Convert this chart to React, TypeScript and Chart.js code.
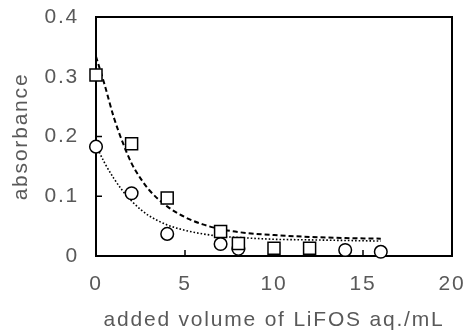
import React, { useEffect, useRef } from "react";
import { Chart, registerables } from "chart.js";

Chart.register(...registerables);

// Measured points
const squareVolumes = [0, 2, 4, 7, 8, 10, 12];
const squareAbsorbance = [0.303, 0.188, 0.097, 0.041, 0.021, 0.013, 0.013];
const circleVolumes = [0, 2, 4, 7, 8, 14, 16];
const circleAbsorbance = [0.183, 0.105, 0.037, 0.020, 0.012, 0.010, 0.007];

// Fitted curves
const dashedVolumes = [0, 0.5, 1, 1.5, 2, 2.5, 3, 4, 5, 6, 7, 8, 10, 12, 14, 16];
const dashedAbsorbance = [0.334, 0.285, 0.232, 0.19, 0.155, 0.13, 0.11, 0.083, 0.065, 0.053, 0.045, 0.04, 0.035, 0.032, 0.030, 0.029];
const dottedVolumes = [0, 0.5, 1, 1.5, 2, 2.5, 3, 4, 5, 6, 7, 8, 10, 12, 14, 16];
const dottedAbsorbance = [0.185, 0.155, 0.13, 0.109, 0.092, 0.078, 0.067, 0.052, 0.043, 0.037, 0.033, 0.031, 0.028, 0.027, 0.026, 0.025];

const xTicks = [0, 5, 10, 15, 20];
const yTicks = [0, 0.1, 0.2, 0.3, 0.4];

const xTitle = "added volume of LiFOS aq./mL";
const yTitle = "absorbance";

const toXY = (xs: number[], ys: number[]) => xs.map((x, i) => ({ x, y: ys[i] }));

const TEXT = "#595959";
const FONT = { family: "'Liberation Sans', Arial, sans-serif", size: 21 };
const SPACING = "1.8px";

const spacingPlugin = {
  id: "spacing",
  beforeLayout(chart: any) {
    chart.ctx.letterSpacing = SPACING;
  },
  beforeDraw(chart: any) {
    chart.ctx.letterSpacing = SPACING;
  },
};

const framePlugin = {
  id: "frame",
  beforeDatasetsDraw(chart: any) {
    const { ctx, chartArea, scales } = chart;
    const { left, right, top, bottom } = chartArea;
    ctx.save();
    ctx.strokeStyle = "#000";
    ctx.lineWidth = 2;
    ctx.beginPath();
    ctx.moveTo(left - 1, top);
    ctx.lineTo(right, top);
    ctx.lineTo(right, bottom + 1);
    ctx.stroke();
    ctx.lineWidth = 1.5;
    ctx.beginPath();
    xTicks.slice(1, -1).forEach((v) => {
      const px = scales.x.getPixelForValue(v);
      ctx.moveTo(px, bottom);
      ctx.lineTo(px, bottom - 6);
    });
    yTicks.slice(1, -1).forEach((v) => {
      const py = scales.y.getPixelForValue(v);
      ctx.moveTo(left, py);
      ctx.lineTo(left + 6, py);
    });
    ctx.stroke();
    ctx.restore();
  },
};

export default function App() {
  const ref = useRef<HTMLCanvasElement>(null);
  useEffect(() => {
    if (!ref.current) return;
    const chart = new Chart(ref.current, {
      type: "scatter",
      data: {
        datasets: [
          {
            label: "squares",
            data: toXY(squareVolumes, squareAbsorbance),
            pointStyle: "rect",
            pointRadius: 8.5,
            pointBorderWidth: 1.5,
            pointBorderColor: "#000",
            pointBackgroundColor: "#fff",
            showLine: false,
            clip: false,
            order: 0,
          },
          {
            label: "circles",
            data: toXY(circleVolumes, circleAbsorbance),
            pointStyle: "circle",
            pointRadius: 6.3,
            pointBorderWidth: 1.5,
            pointBorderColor: "#000",
            pointBackgroundColor: "#fff",
            showLine: false,
            clip: false,
            order: 1,
          },
          {
            label: "dashed fit",
            data: toXY(dashedVolumes, dashedAbsorbance),
            showLine: true,
            pointRadius: 0,
            borderColor: "#000",
            borderWidth: 2,
            borderDash: [5, 3],
            cubicInterpolationMode: "monotone",
            clip: false,
            order: 2,
          },
          {
            label: "dotted fit",
            data: toXY(dottedVolumes, dottedAbsorbance),
            showLine: true,
            pointRadius: 0,
            borderColor: "#000",
            borderWidth: 1.6,
            borderDash: [1.6, 2],
            cubicInterpolationMode: "monotone",
            clip: false,
            order: 3,
          },
        ],
      },
      options: {
        animation: false,
        responsive: false,
        maintainAspectRatio: false,
        layout: { padding: { top: 17, right: 17, left: 0, bottom: 0 } },
        plugins: { legend: { display: false }, tooltip: { enabled: false } },
        scales: {
          x: {
            type: "linear",
            min: 0,
            max: 20,
            afterBuildTicks: (s: any) => {
              s.ticks = xTicks.map((v) => ({ value: v }));
            },
            afterFit: (s: any) => {
              s.height = 77;
              s.paddingLeft = 0;
              s.paddingRight = 0;
            },
            grid: { display: false, drawTicks: false },
            border: { display: true, color: "#000", width: 2 },
            ticks: { color: TEXT, font: FONT, padding: 16, maxRotation: 0 },
            title: { display: true, text: xTitle, color: TEXT, font: FONT, padding: { top: 0, bottom: 0 } },
          },
          y: {
            type: "linear",
            min: 0,
            max: 0.4,
            afterBuildTicks: (s: any) => {
              s.ticks = yTicks.map((v) => ({ value: v }));
            },
            afterFit: (s: any) => {
              s.width = 96;
              s.paddingTop = 0;
              s.paddingBottom = 0;
            },
            grid: { display: false, drawTicks: false },
            border: { display: true, color: "#000", width: 2 },
            ticks: { color: TEXT, font: FONT, padding: 17 },
            title: { display: true, text: yTitle, color: TEXT, font: FONT, padding: { top: 9, bottom: 0 } },
          },
        },
      },
      plugins: [spacingPlugin, framePlugin],
    } as any);
    return () => chart.destroy();
  }, []);
  return (
    <div style={{ position: "absolute", left: 0, top: 0, width: 469, height: 333 }}>
      <canvas ref={ref} width={469} height={333} />
    </div>
  );
}
